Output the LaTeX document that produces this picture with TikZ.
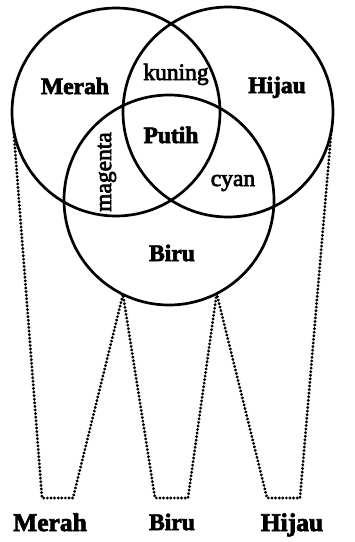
\documentclass[tikz,border=0pt]{standalone}
\usepackage{fontspec}
\setmainfont{Liberation Serif}
\usetikzlibrary{decorations.markings}
\newcommand{\heavytext}[1]{\special{pdf:literal direct 2 Tr 0.7 w}#1\special{pdf:literal direct 0 Tr}}
\begin{document}
\begin{tikzpicture}[x=1pt,y=-1pt,
  ring/.style={circle,draw,line width=2.7pt,inner sep=0pt,outer sep=0pt},
  dotline/.style={decorate,decoration={markings,mark=between positions 0 and 1 step 3.6pt with {\fill[black] (0,0) circle (1.6pt);}}},
  bold/.style={font=\fontsize{23.5}{28}\selectfont\bfseries,inner sep=0pt},
  plain/.style={font=\fontsize{23.5}{28}\selectfont,inner sep=0pt},
  boldbig/.style={font=\fontsize{25.5}{30}\selectfont\bfseries,inner sep=0pt}]
\useasboundingbox (0,0) rectangle (355,542);
\coordinate (m1) at (42,498);
\coordinate (m2) at (73,498);
\coordinate (b1) at (155,498);
\coordinate (b2) at (188,498);
\coordinate (h1) at (267,498);
\coordinate (h2) at (300,498);
\node[ring,minimum size=208pt] (R) at (116,112) {};
\node[ring,minimum size=210pt] (G) at (228,112) {};
\node[ring,minimum size=210pt] (B) at (169,200) {};
\path[dotline] (R.190) -- (m1) -- (m2) -- (B.-116) -- (b1) -- (b2) -- (B.-63) -- (h1) -- (h2) -- (G.-10);
\node[bold,anchor=base] (tM) at (75,94) {\heavytext{Merah}};
\node[plain,anchor=base] (tK) at (176,80) {\heavytext{kuning}};
\node[bold,anchor=base] (tH) at (277,93) {\heavytext{Hijau}};
\node[bold,anchor=base] (tP) at (171,143) {\heavytext{Putih}};
\node[plain,rotate=90] (tMg) at (107,172) {\heavytext{magenta}};
\node[plain,anchor=base] (tC) at (233,186) {\heavytext{cyan}};
\node[bold,anchor=base] (tB) at (172,261) {\heavytext{Biru}};
\node[boldbig,anchor=base] (lM) at (50,531) {\heavytext{Merah}};
\node[bold,anchor=base] (lB) at (172,530) {\heavytext{Biru}};
\node[boldbig,anchor=base] (lH) at (292,531) {\heavytext{Hijau}};
\end{tikzpicture}
\end{document}
